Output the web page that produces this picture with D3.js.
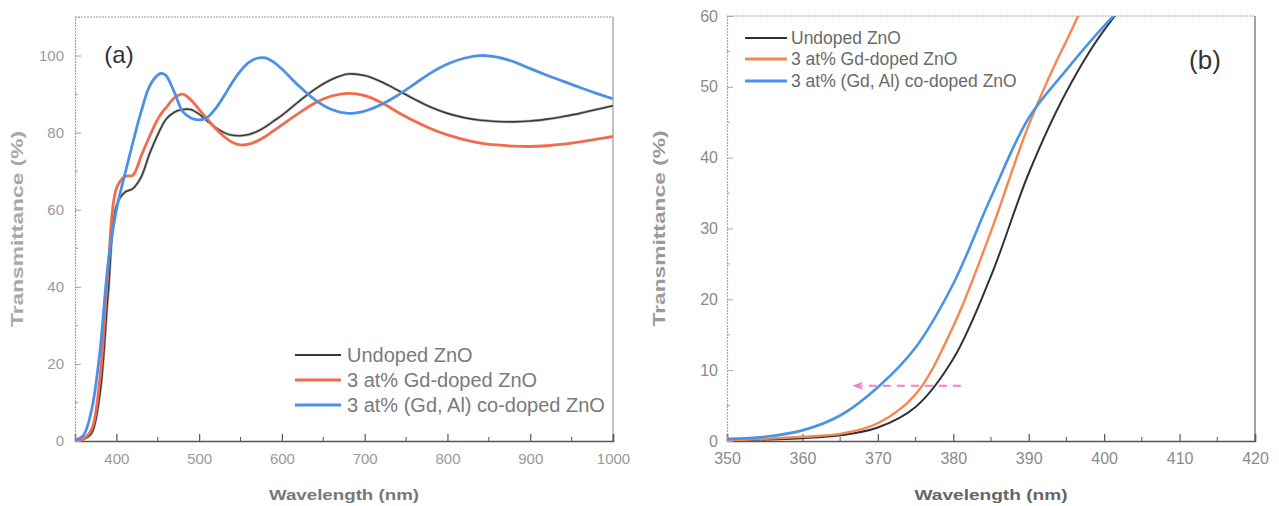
<!DOCTYPE html>
<html>
<head>
<meta charset="utf-8">
<script src="https://cdn.jsdelivr.net/npm/d3@7"></script>
<style>
  html, body { margin: 0; padding: 0; background: #fff; }
  svg { display: block; }
  text { font-family: "Liberation Sans", Arial, sans-serif; }
</style>
</head>
<body>
<svg id="fig" width="1279" height="506"></svg>
<script>
// ---- Panel (a): full spectrum, 350-1000 nm ----
const wavelengthA = [350,360,370,380,390,400,410,420,430,440,450,455,460,470,480,490,500,510,520,530,540,550,560,570,580,590,600,620,640,660,680,700,720,740,760,780,800,820,840,860,880,900,920,940,960,980,1000];
const undopedA =  [0,0.4,2,12,38,61,64.5,65.5,68.5,74.5,79.5,81.7,83.5,85.3,86,86,84.8,83,81.3,80,79.3,79.2,79.5,80.3,81.5,83,84.5,88,91.3,93.8,95.2,94.8,93.2,91,88.7,86.6,85,83.9,83.2,82.9,82.8,83,83.5,84.2,85,86,87];
const gdA =       [0,0.5,3,16,45,65.5,68.6,69,74,79,83.5,85.2,86.5,89,90,88.5,86,83.5,81,79,77.5,76.8,77,77.8,79,80.5,82,85,87.7,89.5,90.2,89.6,87.8,85.3,83,81,79.4,78.2,77.3,76.8,76.5,76.4,76.6,77,77.6,78.3,79];
const gdAlA =     [0.3,1.4,8,23,46,60,69,77.5,85.5,92,94.9,95.4,94.8,90.5,85.5,83.8,83.3,84,86.3,89.5,93,96,98.2,99.3,99.4,98.3,96.5,92.2,88.5,86,85,85.6,87.3,89.7,92.6,95.5,97.8,99.3,100,99.6,98.4,96.6,94.9,93.3,91.7,90.2,88.8];
const xTicksA = [400,500,600,700,800,900,1000];
const yTicksA = [0,20,40,60,80,100];

// ---- Panel (b): absorption edge, 350-420 nm ----
const wavelengthB = [350,355,360,365,370,375,380,385,390,395,400,405,410];
const undopedB = [0,0.2,0.4,0.8,1.9,4.8,11.6,23.3,37.8,49.3,58,64,66];
const gdB =      [0.1,0.3,0.6,1.0,2.5,6.6,16.2,29.6,44.6,56.5,66,68.5,69];
const gdAlB =    [0.3,0.6,1.5,3.6,7.6,13.2,22.2,34.4,45.6,52.4,58.6,64,69];
const xTicksB = [350,360,370,380,390,400,410,420];
const yTicksB = [0,10,20,30,40,50,60];
const shiftArrow = { from: 381, to: 366.6, level: 7.8 };

const seriesNames = ["Undoped ZnO", "3 at% Gd-doped ZnO", "3 at% (Gd, Al) co-doped ZnO"];
const seriesColors = ["#3a3a3a", "#f26b4e", "#4b91e6"];
const seriesColorsB = ["#333333", "#f5874f", "#4a93ea"];

const svg = d3.select("#fig");

function panel(opt) {
  const g = svg.append("g");
  const x = d3.scaleLinear().domain(opt.xDomain).range(opt.xRange);
  const y = d3.scaleLinear().domain(opt.yDomain).range(opt.yRange);
  const [x0, x1] = opt.xRange, [y0, y1] = opt.yRange;

  // frame: top and right borders
  g.append("line").attr("x1", x0).attr("x2", x1).attr("y1", y1).attr("y2", y1)
    .attr("stroke", opt.topColor).attr("stroke-width", 1.2).attr("stroke-dasharray", "2,1");
  g.append("line").attr("x1", x1).attr("x2", x1).attr("y1", y1).attr("y2", y0)
    .attr("stroke", opt.rightColor).attr("stroke-width", 1.2);

  // bottom axis with inward ticks
  const xAxis = d3.axisBottom(x).tickValues(opt.xTicks).tickSize(-7).tickPadding(12).tickFormat(d3.format("d"));
  const gx = g.append("g").attr("transform", `translate(0,${y0})`).call(xAxis);
  gx.select(".domain").attr("stroke", opt.bottomColor).attr("stroke-width", 1.5);
  gx.selectAll(".tick line").attr("stroke", opt.bottomColor).attr("stroke-width", 1.2);
  gx.selectAll(".tick text").attr("fill", opt.labelColor).attr("font-size", opt.tickFont)
    .attr("font-family", "Liberation Sans, Arial, sans-serif");
  // minor x ticks
  g.selectAll(".xminor").data(opt.xMinor).enter().append("line")
    .attr("x1", d => x(d)).attr("x2", d => x(d)).attr("y1", y0).attr("y2", y0 - 4)
    .attr("stroke", opt.bottomColor).attr("stroke-width", 1);

  // left axis with inward ticks
  const yAxis = d3.axisLeft(y).tickValues(opt.yTicks).tickSize(-6).tickPadding(opt.yPad).tickFormat(d3.format("d"));
  const gy = g.append("g").attr("transform", `translate(${x0},0)`).call(yAxis);
  gy.select(".domain").attr("stroke", opt.leftColor).attr("stroke-width", 1.2).attr("stroke-dasharray", "2,1");
  gy.selectAll(".tick line").attr("stroke", opt.leftColor).attr("stroke-width", 1);
  gy.selectAll(".tick text").attr("fill", opt.labelColor).attr("font-size", opt.tickFont)
    .attr("font-family", "Liberation Sans, Arial, sans-serif");
  g.selectAll(".yminor").data(opt.yMinor).enter().append("line")
    .attr("x1", x0).attr("x2", x0 + 3).attr("y1", d => y(d)).attr("y2", d => y(d))
    .attr("stroke", opt.leftColor).attr("stroke-width", 1);

  // clip for curves
  const clipId = "clip-" + opt.id;
  svg.append("defs").append("clipPath").attr("id", clipId)
    .append("rect").attr("x", x0).attr("y", y1).attr("width", x1 - x0).attr("height", y0 - y1);

  const line = d3.line().x(d => x(d[0])).y(d => y(d[1])).curve(d3.curveCatmullRom.alpha(0.5));
  const plot = g.append("g").attr("clip-path", `url(#${clipId})`);
  opt.series.forEach((vals, i) => {
    const pts = opt.wavelength.map((w, k) => [w, vals[k]]);
    if (i === 0 && opt.halo) {
      plot.append("path").datum(pts).attr("d", line).attr("fill", "none")
        .attr("stroke", "#c4c4c4").attr("stroke-width", 3);
    }
    plot.append("path").datum(pts).attr("d", line).attr("fill", "none")
      .attr("stroke", opt.colors[i]).attr("stroke-width", opt.widths[i])
      .attr("stroke-linejoin", "round");
  });

  // axis titles
  g.append("text").attr("x", (x0 + x1) / 2).attr("y", opt.xTitleY).attr("text-anchor", "middle")
    .attr("font-size", opt.titleFont).attr("font-weight", "bold").attr("fill", opt.titleColor)
    .attr("textLength", opt.xTitleLen).attr("lengthAdjust", "spacingAndGlyphs")
    .text("Wavelength (nm)");
  g.append("text").attr("transform", `translate(${opt.yTitleX},${(y0 + y1) / 2}) rotate(-90)`)
    .attr("text-anchor", "middle").attr("font-size", 16.5).attr("font-weight", "bold")
    .attr("fill", opt.yTitleColor).attr("textLength", 196).attr("lengthAdjust", "spacingAndGlyphs")
    .text("Transmittance (%)");

  // legend
  opt.legend.rows.forEach((ry, i) => {
    g.append("line").attr("x1", opt.legend.x1).attr("x2", opt.legend.x2).attr("y1", ry).attr("y2", ry)
      .attr("stroke", opt.colors[i]).attr("stroke-width", i === 0 ? 2 : 3);
    g.append("text").attr("x", opt.legend.tx).attr("y", ry).attr("dy", "0.35em")
      .attr("font-size", opt.legend.font).attr("fill", opt.legend.color)
      .text(seriesNames[i]);
  });

  // panel letter
  g.append("text").attr("x", opt.letter.x).attr("y", opt.letter.y).attr("dy", "0.35em")
    .attr("text-anchor", "middle").attr("font-size", opt.letter.size)
    .attr("font-family", "DejaVu Sans, sans-serif").attr("font-weight", 200)
    .attr("fill", "#333").text(opt.letter.text);

  return { g, x, y };
}

panel({
  id: "a",
  xDomain: [350, 1000], xRange: [75, 613],
  yDomain: [0, 110], yRange: [441, 17],
  xTicks: xTicksA, yTicks: yTicksA,
  xMinor: [450,550,650,750,850,950], yMinor: [10,30,50,70,90],
  topColor: "#9a9a9a", rightColor: "#9a9a9a", bottomColor: "#555", leftColor: "#a0a0a0",
  labelColor: "#9a9a9a", tickFont: 15, yPad: 11,
  wavelength: wavelengthA, series: [undopedA, gdA, gdAlA],
  colors: seriesColors, widths: [1.6, 2.8, 2.8], halo: true,
  titleFont: 15, titleColor: "#777", yTitleColor: "#a8a8a8", xTitleY: 500, xTitleLen: 150, yTitleX: 23,
  legend: { x1: 295, x2: 341, tx: 347, rows: [355, 380, 405], font: 20, color: "#7a7a7a" },
  letter: { x: 119, y: 55, size: 24, text: "(a)" }
});

const pb = panel({
  id: "b",
  xDomain: [350, 420], xRange: [727, 1255],
  yDomain: [0, 60], yRange: [441, 16],
  xTicks: xTicksB, yTicks: yTicksB,
  xMinor: [355,365,375,385,395,405,415], yMinor: [5,15,25,35,45,55],
  topColor: "#a0a0a0", rightColor: "#666", bottomColor: "#555", leftColor: "#aaa",
  labelColor: "#8a8a8a", tickFont: 16, yPad: 9,
  wavelength: wavelengthB, series: [undopedB, gdB, gdAlB],
  colors: seriesColorsB, widths: [2, 2.4, 2.6], halo: false,
  titleFont: 15, titleColor: "#666", yTitleColor: "#9a9a9a", xTitleY: 500, xTitleLen: 153, yTitleX: 665,
  legend: { x1: 745, x2: 787, tx: 791, rows: [38, 59, 81], font: 17.5, color: "#6a6a6a" },
  letter: { x: 1205, y: 60, size: 26, text: "(b)" }
});

// band-edge shift marker in panel (b): dashed shaft plus arrowhead
const ax0 = pb.x(shiftArrow.from), ax1 = pb.x(shiftArrow.to), ay = pb.y(shiftArrow.level);
pb.g.append("line")
  .attr("x1", ax0).attr("x2", ax1 + 9).attr("y1", ay).attr("y2", ay)
  .attr("stroke", "#f27fc4").attr("stroke-width", 2).attr("stroke-dasharray", "8,6");
pb.g.append("path")
  .attr("d", `M${ax1},${ay} L${ax1 + 11},${ay - 4} L${ax1 + 8},${ay} L${ax1 + 11},${ay + 4} Z`)
  .attr("fill", "#f27fc4");
</script>
</body>
</html>
